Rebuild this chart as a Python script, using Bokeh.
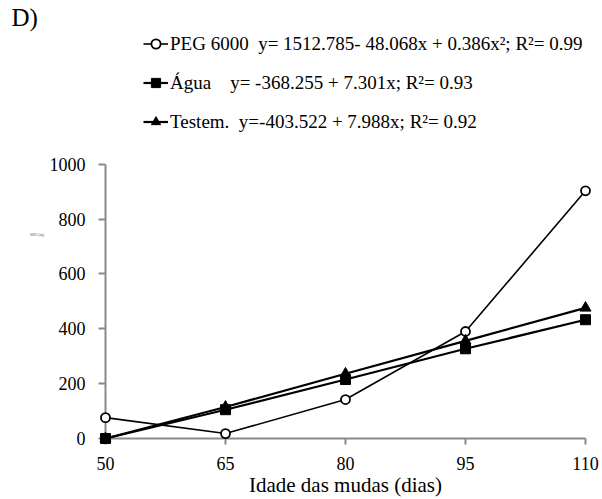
from bokeh.plotting import figure
from bokeh.models import Legend, LegendItem, FixedTicker, Range1d
from bokeh.embed import file_html
from bokeh.resources import INLINE

x_days = [50, 65, 80, 95, 110]
peg = [76, 18, 142, 390, 903]
agua = [0, 105, 215, 327, 433]
testem = [0, 115, 236, 356, 476]
y_ticks = [0, 200, 400, 600, 800, 1000]

peg_label = "PEG 6000\u00a0\u00a0y= 1512.785- 48.068x + 0.386x²; R²= 0.99"
agua_label = "Água\u00a0\u00a0\u00a0\u00a0y= -368.255 + 7.301x; R²= 0.93"
testem_label = "Testem.\u00a0\u00a0y=-403.522 + 7.988x; R²= 0.92"
x_title = "Idade das mudas (dias)"
y_title = "MSPA (mg)"
panel = "D)"

FONT = "Liberation Serif"

# pixel layout of the axes box
TOP_BORDER = 30
LEFT_PX = 105
AXIS_TOP_PX = 164
AXIS_BOTTOM_PX = 439
px_per_unit = (AXIS_BOTTOM_PX - AXIS_TOP_PX) / 1000.0
y_end = 1000 + (AXIS_TOP_PX - TOP_BORDER) / px_per_unit

p = figure(width=602, height=499, output_backend="svg", toolbar_location=None,
           x_range=Range1d(50, 110), y_range=Range1d(0, y_end),
           min_border_left=LEFT_PX, min_border_right=17, min_border_top=TOP_BORDER,
           min_border_bottom=499 - AXIS_BOTTOM_PX)
p.outline_line_color = None
p.grid.grid_line_color = None
p.background_fill_color = "white"

p.title.text = panel
p.title.text_font = FONT
p.title.text_font_size = "25px"
p.title.text_font_style = "normal"
p.title.text_color = "black"
p.title.standoff = 0
p.title.offset = -(LEFT_PX - 11)

l1 = p.line(x_days, peg, line_color="black", line_width=1.6, level="overlay")
s1 = p.scatter(x_days, peg, marker="circle", size=9, fill_color="white", line_color="black", line_width=1.8, level="overlay")
l2 = p.line(x_days, agua, line_color="black", line_width=2.2, level="overlay")
s2 = p.scatter(x_days, agua, marker="square", size=10, fill_color="black", line_color="black", level="overlay")
l3 = p.line(x_days, testem, line_color="black", line_width=2.2, level="overlay")
s3 = p.scatter(x_days, testem, marker="triangle", size=11, fill_color="black", line_color="black", level="overlay")

for ax in (p.xaxis[0], p.yaxis[0]):
    ax.axis_line_color = "#8a8a8a"
    ax.axis_line_width = 2
    ax.major_tick_line_color = "#8a8a8a"
    ax.major_tick_line_width = 2
    ax.minor_tick_line_color = None
    ax.major_tick_in = 0
    ax.major_label_text_font = FONT
    ax.major_label_text_font_size = "18px"
    ax.major_label_text_color = "black"

p.xaxis.ticker = FixedTicker(ticks=x_days)
p.xaxis.bounds = (50, 110)
p.xaxis.major_tick_out = 6
p.xaxis.major_label_standoff = 12
p.xaxis.axis_label = x_title
p.xaxis.axis_label_text_font = FONT
p.xaxis.axis_label_text_font_size = "21px"
p.xaxis.axis_label_text_font_style = "normal"
p.xaxis.axis_label_text_color = "black"
p.xaxis.axis_label_standoff = 0

p.yaxis.ticker = FixedTicker(ticks=y_ticks)
p.yaxis.bounds = (0, 1000)
p.yaxis.major_tick_out = 7
p.yaxis.major_label_standoff = 13
p.yaxis.axis_label = y_title
p.yaxis.axis_label_orientation = "horizontal"
p.yaxis.axis_label_text_font = FONT
p.yaxis.axis_label_text_font_size = "3px"
p.yaxis.axis_label_text_font_style = "normal"
p.yaxis.axis_label_text_color = "#555555"
p.yaxis.axis_label_standoff = 2

legend = Legend(items=[
    LegendItem(label=peg_label, renderers=[l1, s1]),
    LegendItem(label=agua_label, renderers=[l2, s2]),
    LegendItem(label=testem_label, renderers=[l3, s3]),
], location=(143 - LEFT_PX, AXIS_BOTTOM_PX - 134), orientation="vertical")
legend.label_text_font = FONT
legend.label_text_font_size = "19px"
legend.label_text_color = "black"
legend.glyph_width = 25
legend.glyph_height = 23
legend.label_height = 23
legend.label_standoff = 2
legend.spacing = 16
legend.padding = 0
legend.margin = 0
legend.border_line_color = None
legend.background_fill_alpha = 0
p.add_layout(legend)

open("out.html", "w").write(file_html(p, INLINE))
